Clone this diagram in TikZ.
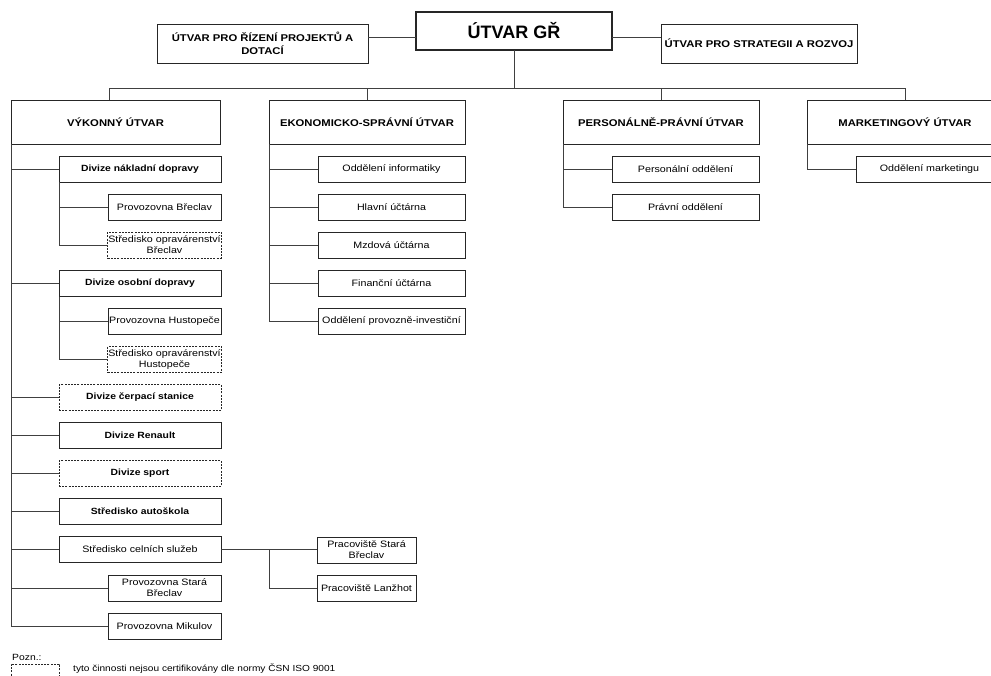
\documentclass[tikz,border=0pt]{standalone}
\usepackage{fontspec}
\setmainfont{Liberation Sans}[FakeStretch=1.15]
\newfontfamily\grfont{Liberation Sans}
\begin{document}
\begin{tikzpicture}[x=1pt,y=-1pt,
  box/.style={draw=black!85, line width=0.9pt, fill=white, inner sep=0.5pt, outer sep=0pt},
  ml/.style={align=center},
  dbox/.style={box, dash pattern=on 2pt off 1.2pt, line width=0.8pt},
  conn/.style={draw=black!75, line width=0.9pt},
  hdr/.style={font=\fontsize{9.8}{13.5}\selectfont\bfseries},
  bchild/.style={font=\fontsize{9}{11}\selectfont\bfseries},
  rchild/.style={font=\fontsize{9.3}{11}\selectfont},
  w1/.style={minimum width=162pt, minimum height=26pt},
  w2/.style={minimum width=113pt, minimum height=26pt},
  w3/.style={minimum width=147pt, minimum height=26pt},
  w4/.style={minimum width=99pt, minimum height=26pt},
  hw/.style={minimum width=196pt, minimum height=44pt}
]
\useasboundingbox (0,0) rectangle (991,675);
\fill[white] (0,0) rectangle (991,675);

% top level
\node[box, line width=2pt, minimum width=196pt, minimum height=38pt, font=\grfont\fontsize{18}{20}\selectfont\bfseries] (gr) at (514,31) {ÚTVAR GŘ};
\node[box, ml, hdr, minimum width=211pt, minimum height=39pt] (rizeni) at (262.5,43.5) {ÚTVAR PRO ŘÍZENÍ PROJEKTŮ A\\DOTACÍ};
\node[box, hdr, minimum width=196pt, minimum height=39pt, inner xsep=0pt] (strat) at (759,43.5) {ÚTVAR PRO STRATEGII A ROZVOJ};
\coordinate (rg) at (514,37);
\draw[conn] (rg -| rizeni.east) -- (rg -| gr.west);
\draw[conn] (rg -| gr.east) -- (rg -| strat.west);

% departments
\node[box, hdr, hw, minimum width=209pt] (vyk) at (115.5,122) {VÝKONNÝ ÚTVAR};
\node[box, hdr, hw] (ekon) at (367,122) {EKONOMICKO-SPRÁVNÍ ÚTVAR};
\node[box, hdr, hw] (pers) at (661,122) {PERSONÁLNĚ-PRÁVNÍ ÚTVAR};
\node[box, hdr, hw] (mark) at (905,122) {MARKETINGOVÝ ÚTVAR};
\coordinate (busL) at (109,88);
\coordinate (busR) at (905,88);
\draw[conn] (busL) -- (busR);
\draw[conn] (gr.south) -- (gr.south |- busL);
\draw[conn] (busL) -- (busL |- vyk.north);
\draw[conn] (ekon.north) -- (ekon.north |- busL);
\draw[conn] (pers.north) -- (pers.north |- busL);
\draw[conn] (mark.north) -- (mark.north |- busL);

% VYKONNY children
\node[box, bchild, w1] (nakl) at (140,169) {Divize nákladní dopravy};
\node[box, rchild, w2] (provbv) at (164.5,207) {Provozovna Břeclav};
\node[dbox, ml, rchild, w2] (strbv) at (164.5,245) {Středisko opravárenství\\Břeclav};
\node[box, bchild, w1] (osob) at (140,283.5) {Divize osobní dopravy};
\node[box, rchild, w2] (provhu) at (164.5,321.5) {Provozovna Hustopeče};
\node[dbox, ml, rchild, w2] (strhu) at (164.5,359.5) {Středisko opravárenství\\Hustopeče};
\node[dbox, bchild, w1] (cerp) at (140,397.5) {Divize čerpací stanice};
\node[box, bchild, w1] (ren) at (140,435.5) {Divize Renault};
\node[dbox, bchild, w1] (sport) at (140,473.5) {Divize sport};
\node[box, bchild, w1] (auto) at (140,511.5) {Středisko autoškola};
\node[box, rchild, w1] (celni) at (140,549.5) {Středisko celních služeb};
\node[box, ml, rchild, w2] (provst) at (164.5,588) {Provozovna Stará\\Břeclav};
\node[box, rchild, w2] (mik) at (164.5,626) {Provozovna Mikulov};
\node[box, ml, rchild, w4] (prst) at (366.5,550) {Pracoviště Stará\\Břeclav};
\node[box, rchild, w4] (lanz) at (366.5,588) {Pracoviště Lanžhot};

\draw[conn] (vyk.south west) -- (vyk.south west |- mik.west) -- (mik.west);
\foreach \n in {nakl,osob,cerp,ren,sport,auto,celni,provst}
  \draw[conn] (vyk.south west |- \n.west) -- (\n.west);
\draw[conn] (nakl.south west) -- (nakl.south west |- strbv.west) -- (strbv.west);
\draw[conn] (nakl.south west |- provbv.west) -- (provbv.west);
\draw[conn] (osob.south west) -- (osob.south west |- strhu.west) -- (strhu.west);
\draw[conn] (osob.south west |- provhu.west) -- (provhu.west);
\coordinate (cj) at (ekon.south west |- celni.east);
\draw[conn] (celni.east) -- (cj) -- (cj -| prst.west);
\draw[conn] (cj) |- (lanz.west);

% EKONOMICKO children
\node[box, rchild, w3] (inf) at (391.5,169) {Oddělení informatiky};
\node[box, rchild, w3] (hla) at (391.5,207) {Hlavní účtárna};
\node[box, rchild, w3] (mzd) at (391.5,245.5) {Mzdová účtárna};
\node[box, rchild, w3] (fin) at (391.5,283.5) {Finanční účtárna};
\node[box, rchild, w3] (inv) at (391.5,321) {Oddělení provozně-investiční};
\draw[conn] (ekon.south west) -- (ekon.south west |- inv.west) -- (inv.west);
\foreach \n in {inf,hla,mzd,fin}
  \draw[conn] (ekon.south west |- \n.west) -- (\n.west);

% PERSONALNE children
\node[box, rchild, w3] (peo) at (685.5,169) {Personální oddělení};
\node[box, rchild, w3] (pra) at (685.5,207) {Právní oddělení};
\draw[conn] (pers.south west) -- (pers.south west |- pra.west) -- (pra.west);
\draw[conn] (pers.south west |- peo.west) -- (peo.west);

% MARKETING child
\node[box, rchild, w3] (mko) at (929.5,169) {Oddělení marketingu};
\draw[conn] (mark.south west) -- (mark.south west |- mko.west) -- (mko.west);

% legend
\node[anchor=west, inner sep=0pt, font=\fontsize{9}{10}\selectfont] (pozn) at (12,657) {Pozn.:};
\node[dbox, minimum width=48pt, minimum height=16pt] (legbox) at (35,672) {};
\node[anchor=west, inner sep=0pt, font=\fontsize{8.8}{10}\selectfont] (legtext) at (73,669) {tyto činnosti nejsou certifikovány dle normy ČSN ISO 9001};
\end{tikzpicture}
\end{document}
